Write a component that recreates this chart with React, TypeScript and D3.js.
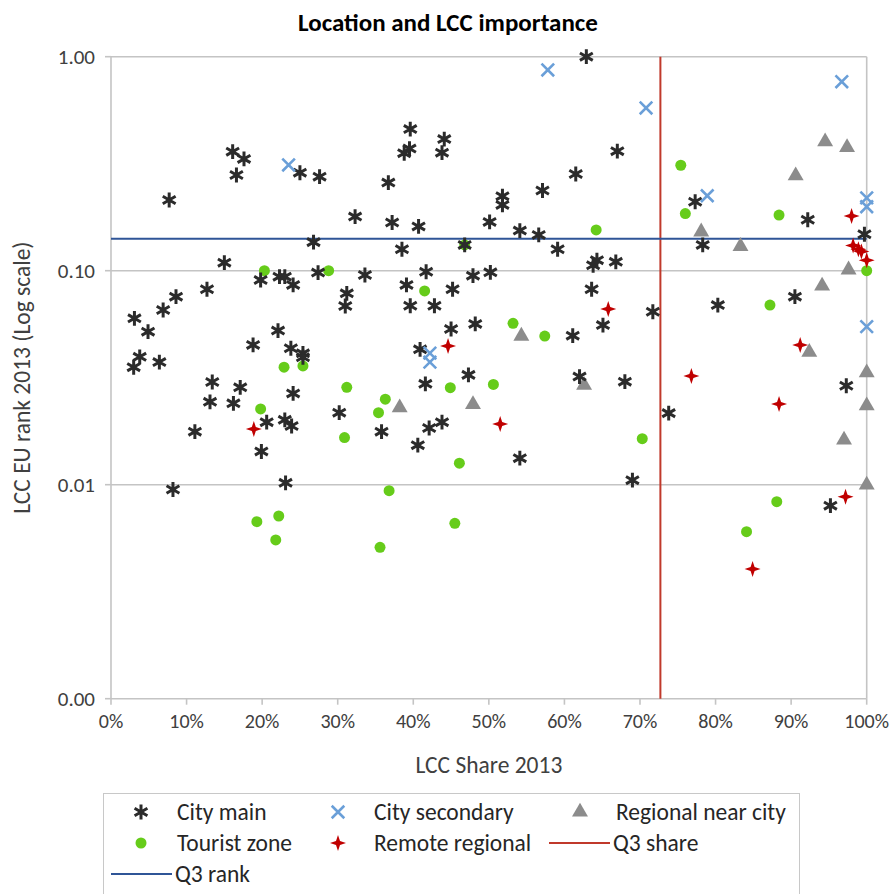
import React from "react";
import * as d3 from "d3";

// [LCC share %, EU rank] per airport group
const cityMain: [number, number][] = [
  [62.9, 1.0], [7.7, 0.214], [16.1, 0.36], [17.6, 0.333], [16.6, 0.28], [25.0, 0.287], [27.6, 0.275],
  [32.3, 0.179], [26.8, 0.136], [15.0, 0.109], [19.8, 0.0905], [22.3, 0.0938], [23.0, 0.0938],
  [24.1, 0.0858], [27.4, 0.098], [31.2, 0.0784], [31.0, 0.0684], [12.7, 0.0819], [8.6, 0.0756],
  [6.9, 0.0655], [3.1, 0.0599], [4.9, 0.0519], [3.8, 0.0396], [3.0, 0.0354], [6.4, 0.0374],
  [22.1, 0.0525], [18.8, 0.045], [23.8, 0.0434], [25.4, 0.0411], [25.4, 0.0394], [13.4, 0.0302],
  [17.1, 0.0285], [13.1, 0.0244], [16.2, 0.024], [24.1, 0.0267], [30.2, 0.0217], [20.6, 0.0196],
  [23.0, 0.0201], [23.9, 0.0188], [11.1, 0.0177], [19.9, 0.0143], [23.1, 0.0102], [8.2, 0.0095],
  [39.6, 0.459], [39.5, 0.372], [38.8, 0.354], [44.1, 0.412], [43.8, 0.356], [36.7, 0.258],
  [61.5, 0.283], [51.8, 0.223], [51.8, 0.203], [57.1, 0.237], [37.2, 0.168], [40.7, 0.161],
  [50.1, 0.169], [54.1, 0.154], [56.6, 0.147], [46.8, 0.132], [38.5, 0.126], [59.1, 0.126],
  [33.6, 0.0955], [41.7, 0.0989], [47.9, 0.0948], [50.2, 0.0983], [63.8, 0.106], [64.3, 0.112],
  [66.8, 0.11], [67.0, 0.362], [39.1, 0.0858], [45.2, 0.0819], [39.6, 0.0686], [42.8, 0.0686],
  [63.6, 0.0819], [45.0, 0.0534], [48.2, 0.0564], [61.1, 0.0497], [40.9, 0.0429], [47.3, 0.0326],
  [41.6, 0.0296], [62.0, 0.032], [35.8, 0.0177], [42.1, 0.0184], [43.8, 0.0196], [40.6, 0.0153],
  [54.1, 0.0133], [90.5, 0.0756], [80.3, 0.0691], [71.7, 0.0643], [65.1, 0.0557], [68.0, 0.0303],
  [97.3, 0.029], [73.8, 0.0216], [69.0, 0.0105], [95.2, 0.00798], [77.3, 0.21], [92.2, 0.173],
  [78.3, 0.132], [99.7, 0.148],
];

const citySecondary: [number, number][] = [
  [57.8, 0.867], [70.8, 0.576], [96.7, 0.764], [23.5, 0.312], [78.9, 0.224], [100, 0.219],
  [100, 0.199], [100, 0.0548], [42.2, 0.0412], [42.2, 0.0374],
];

const regionalNearCity: [number, number][] = [
  [94.5, 0.401], [97.4, 0.377], [90.6, 0.278], [78.1, 0.152], [83.3, 0.13], [97.6, 0.101],
  [94.1, 0.0848], [92.4, 0.0416], [100, 0.0334], [100, 0.0234], [97.0, 0.0162], [100, 0.00997],
  [54.3, 0.0495], [62.6, 0.0292], [38.2, 0.0229], [47.9, 0.0237],
];

const touristZone: [number, number][] = [
  [20.3, 0.1], [28.8, 0.1], [46.8, 0.132], [64.2, 0.155], [75.4, 0.311], [76.0, 0.185],
  [88.4, 0.182], [100, 0.1], [22.9, 0.0354], [25.4, 0.0359], [31.2, 0.0285], [19.8, 0.0226],
  [30.9, 0.0166], [19.3, 0.00672], [22.2, 0.00714], [21.8, 0.00552], [41.5, 0.0804],
  [53.2, 0.0568], [57.4, 0.0495], [44.9, 0.0284], [50.6, 0.0294], [36.3, 0.0251], [35.4, 0.0217],
  [46.1, 0.0126], [36.8, 0.00938], [45.5, 0.0066], [35.6, 0.0051], [87.2, 0.0691], [70.3, 0.0164],
  [88.1, 0.00833], [84.1, 0.00603],
];

const remoteRegional: [number, number][] = [
  [98.0, 0.18], [98.2, 0.131], [98.9, 0.126], [99.3, 0.123], [100, 0.112], [91.2, 0.045],
  [76.8, 0.0322], [88.4, 0.0238], [97.2, 0.00879], [84.9, 0.00404], [65.8, 0.0662],
  [44.6, 0.0445], [51.5, 0.0192], [18.9, 0.0182],
];

const q3Share = 72.7;
const q3Rank = 0.141;

const xTicks = [0, 10, 20, 30, 40, 50, 60, 70, 80, 90, 100];
const yTicks = [0.001, 0.01, 0.1, 1];

const W = 894;
const H = 894;
const left = 111;
const right = 866.7;
const top = 56.7;
const bottom = 698.7;

const FONT = "Carlito, Lato, 'Open Sans', sans-serif";

const x = d3.scaleLinear().domain([0, 100]).range([left, right]);
const y = d3.scaleLog().domain([0.001, 1]).range([bottom, top]);

const asterisk = d3.symbol(d3.symbolAsterisk, 155)() as string;
const cross = d3.symbol(d3.symbolX, 105)() as string;
const triangle = d3.symbol(d3.symbolTriangle, 110)() as string;

// four-pointed star for the remote regional group
const spark = (r: number, a: number) =>
  `M0,${-r}L${a},${-a}L${r},0L${a},${a}L0,${r}L${-a},${a}L${-r},0L${-a},${-a}Z`;
const sparkPath = spark(8, 2);

const C_MAIN = "#2b2b2b";
const C_SEC = "#6a9fd8";
const C_REG = "#8c8c8c";
const C_TOUR = "#66cc1a";
const C_REM = "#c00000";

const MarkMain = ({ tx, ty }: { tx: number; ty: number }) => (
  <path d={asterisk} transform={`translate(${tx},${ty})`} fill="none" stroke={C_MAIN} strokeWidth={3} />
);
const MarkSec = ({ tx, ty }: { tx: number; ty: number }) => (
  <path d={cross} transform={`translate(${tx},${ty})`} fill="none" stroke={C_SEC} strokeWidth={2.6} />
);
const MarkReg = ({ tx, ty }: { tx: number; ty: number }) => (
  <path d={triangle} transform={`translate(${tx},${ty})`} fill={C_REG} />
);
const MarkTour = ({ tx, ty }: { tx: number; ty: number }) => (
  <circle cx={tx} cy={ty} r={5.5} fill={C_TOUR} />
);
const MarkRem = ({ tx, ty }: { tx: number; ty: number }) => (
  <path d={sparkPath} transform={`translate(${tx},${ty})`} fill={C_REM} />
);

export default function App() {
  const fmtY = d3.format(".2f");
  const grid = "#c4c4c4";
  const legendRows = [812, 843, 874];
  const colMark = [141, 338, 580];
  const colText = [177, 374, 616];
  const lt = { fontFamily: FONT, fontSize: 23.5, fill: "#262626" } as const;

  return (
    <svg
      width={W}
      height={H}
      style={{ position: "absolute", left: 0, top: 0, background: "#fff" }}
    >
      <rect width={W} height={H} fill="#fff" />
      <text x={448} y={31} textAnchor="middle" fontFamily={FONT} fontWeight="bold" fontSize={25} fill="#000">
        Location and LCC importance
      </text>

      {/* gridlines and plot frame */}
      {yTicks.slice(1).map((t) => (
        <line key={t} x1={left} x2={right} y1={y(t)} y2={y(t)} stroke={grid} strokeWidth={1.6} />
      ))}
      <line x1={right} x2={right} y1={top} y2={bottom} stroke={grid} strokeWidth={1.6} />
      <line x1={left} x2={left} y1={top} y2={bottom} stroke={grid} strokeWidth={1.6} />
      <line x1={left} x2={right} y1={bottom} y2={bottom} stroke={grid} strokeWidth={1.6} />
      {xTicks.map((t) => (
        <line key={t} x1={x(t)} x2={x(t)} y1={bottom} y2={bottom + 6} stroke={grid} strokeWidth={1.6} />
      ))}
      {yTicks.map((t) => (
        <line key={t} x1={left - 6} x2={left} y1={y(t)} y2={y(t)} stroke={grid} strokeWidth={1.6} />
      ))}

      {/* axis labels */}
      {xTicks.map((t) => (
        <text key={t} x={x(t)} y={bottom + 29} textAnchor="middle" fontFamily={FONT} fontSize={20} fill="#404040">
          {`${t}%`}
        </text>
      ))}
      {yTicks.map((t) => (
        <text key={t} x={left - 16} y={y(t) + 7} textAnchor="end" fontFamily={FONT} fontSize={21} fill="#404040">
          {fmtY(t)}
        </text>
      ))}
      <text x={(left + right) / 2} y={773} textAnchor="middle" fontFamily={FONT} fontSize={23.5} fill="#404040">
        LCC Share 2013
      </text>
      <text
        transform={`translate(30,${(top + bottom) / 2}) rotate(-90)`}
        textAnchor="middle"
        fontFamily={FONT}
        fontSize={23.5}
        fill="#404040"
      >
        LCC EU rank 2013 (Log scale)
      </text>

      {/* quartile reference lines */}
      <line x1={x(q3Share)} x2={x(q3Share)} y1={top} y2={bottom} stroke="#c0392b" strokeWidth={2} />
      <line x1={left} x2={right} y1={y(q3Rank)} y2={y(q3Rank)} stroke="#2f5597" strokeWidth={2} />

      {/* markers */}
      {regionalNearCity.map(([s, r], i) => (
        <MarkReg key={`g${i}`} tx={x(s)} ty={y(r)} />
      ))}
      {touristZone.map(([s, r], i) => (
        <MarkTour key={`t${i}`} tx={x(s)} ty={y(r)} />
      ))}
      {cityMain.map(([s, r], i) => (
        <MarkMain key={`m${i}`} tx={x(s)} ty={y(r)} />
      ))}
      {citySecondary.map(([s, r], i) => (
        <MarkSec key={`s${i}`} tx={x(s)} ty={y(r)} />
      ))}
      {remoteRegional.map(([s, r], i) => (
        <MarkRem key={`r${i}`} tx={x(s)} ty={y(r)} />
      ))}

      {/* legend */}
      <rect x={103.5} y={793.5} width={696} height={120} fill="#fff" stroke="#c8c8c8" strokeWidth={1} />
      <MarkMain tx={colMark[0]} ty={legendRows[0]} />
      <text x={colText[0]} y={legendRows[0] + 8} {...lt}>City main</text>
      <MarkSec tx={colMark[1]} ty={legendRows[0]} />
      <text x={colText[1]} y={legendRows[0] + 8} {...lt}>City secondary</text>
      <MarkReg tx={colMark[2]} ty={legendRows[0]} />
      <text x={colText[2]} y={legendRows[0] + 8} {...lt}>Regional near city</text>

      <MarkTour tx={colMark[0]} ty={legendRows[1]} />
      <text x={colText[0]} y={legendRows[1] + 8} {...lt}>Tourist zone</text>
      <MarkRem tx={colMark[1]} ty={legendRows[1]} />
      <text x={colText[1]} y={legendRows[1] + 8} {...lt}>Remote regional</text>
      <line x1={549} x2={610} y1={legendRows[1]} y2={legendRows[1]} stroke="#c0392b" strokeWidth={2} />
      <text x={613} y={legendRows[1] + 8} {...lt}>Q3 share</text>

      <line x1={111} x2={172} y1={legendRows[2]} y2={legendRows[2]} stroke="#2f5597" strokeWidth={2} />
      <text x={175} y={legendRows[2] + 8} {...lt}>Q3 rank</text>
    </svg>
  );
}
